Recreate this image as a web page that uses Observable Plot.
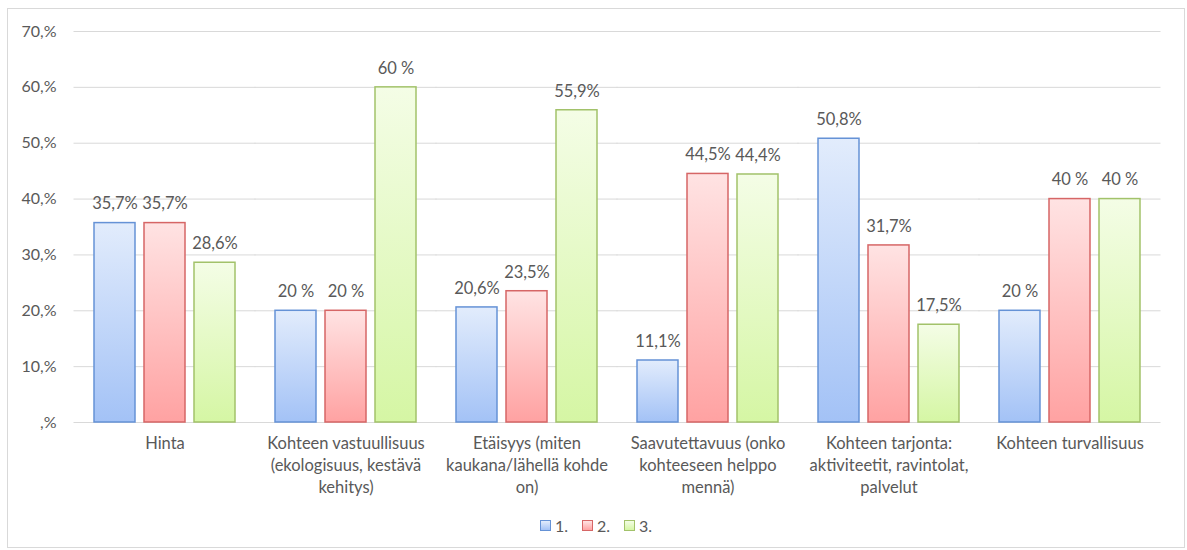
<!DOCTYPE html>
<html>
<head>
<meta charset="utf-8">
<script src="https://cdn.jsdelivr.net/npm/d3@7"></script>
<script src="https://cdn.jsdelivr.net/npm/@observablehq/plot@0.6"></script>
<style>
  html, body { margin: 0; padding: 0; background: #fff; }
  #frame {
    position: absolute; left: 7px; top: 8px; width: 1176px; height: 538px;
    border: 1px solid #d9d9d9; background: #fff; font-family: Lato, "Open Sans", sans-serif;
  }
  #chart { height: 505px; }
  #legend {
    display: flex; justify-content: center; align-items: center; gap: 0;
    font-size: 16px; color: #595959; margin-top: 2px;
  }
  .item { display: flex; align-items: center; margin: 0 7px; }
  .sw { width: 9px; height: 9px; margin-right: 4px; }
</style>
</head>
<body>
<div id="frame"><div id="chart"></div><div id="legend"></div></div>
<script>
const categories = ["Hinta", "Kohteen vastuullisuus", "Etäisyys", "Saavutettavuus", "Kohteen tarjonta", "Kohteen turvallisuus"];
const xTickLabels = [
  "Hinta",
  "Kohteen vastuullisuus\n(ekologisuus, kestävä\nkehitys)",
  "Etäisyys (miten\nkaukana/lähellä kohde\non)",
  "Saavutettavuus (onko\nkohteeseen helppo\nmennä)",
  "Kohteen tarjonta:\naktiviteetit, ravintolat,\npalvelut",
  "Kohteen turvallisuus"
];
const seriesNames = ["1.", "2.", "3."];
const values1 = [35.7, 20, 20.6, 11.1, 50.8, 20];
const values2 = [35.7, 20, 23.5, 44.5, 31.7, 40];
const values3 = [28.6, 60, 55.9, 44.4, 17.5, 40];
const labels1 = ["35,7%", "20 %", "20,6%", "11,1%", "50,8%", "20 %"];
const labels2 = ["35,7%", "20 %", "23,5%", "44,5%", "31,7%", "40 %"];
const labels3 = ["28,6%", "60 %", "55,9%", "44,4%", "17,5%", "40 %"];
const yTicks = [0, 10, 20, 30, 40, 50, 60, 70];
const yTickLabels = [",%", "10,%", "20,%", "30,%", "40,%", "50,%", "60,%", "70,%"];

const gradients = [
  {id: "g1", top: "#e2ecfc", bottom: "#a3c2f6", stroke: "#6592d6"},
  {id: "g2", top: "#ffe3e3", bottom: "#ffa2a2", stroke: "#d66666"},
  {id: "g3", top: "#f4fde6", bottom: "#d5f6a4", stroke: "#a2c26a"}
];

const seriesValues = [values1, values2, values3];
const seriesLabels = [labels1, labels2, labels3];
const data = [];
categories.forEach((c, i) => {
  seriesNames.forEach((s, j) => {
    data.push({category: c, series: s, value: seriesValues[j][i], label: seriesLabels[j][i], si: j});
  });
});

const defsMark = () => {
  const defs = d3.create("svg:defs");
  gradients.forEach(g => {
    const lg = defs.append("linearGradient").attr("id", g.id).attr("x1", 0).attr("y1", 0).attr("x2", 0).attr("y2", 1);
    lg.append("stop").attr("offset", "0%").attr("stop-color", g.top);
    lg.append("stop").attr("offset", "100%").attr("stop-color", g.bottom);
  });
  return defs.node();
};

const chart = Plot.plot({
  width: 1176,
  height: 505,
  marginTop: 22,
  marginBottom: 92,
  marginLeft: 64,
  marginRight: 21,
  style: {fontFamily: "Lato, 'Open Sans', sans-serif", fontSize: "16px", color: "#595959", background: "transparent"},
  fx: {domain: categories, paddingInner: 0.22, paddingOuter: 0.11, label: null},
  x: {domain: seriesNames, paddingInner: 0.18, paddingOuter: 0, axis: null},
  y: {domain: [0, 70], axis: null},
  color: {type: "identity"},
  marks: [
    defsMark,
    Plot.ruleY(yTicks, {y: d => d, stroke: "#d9d9d9", strokeWidth: 1, insetLeft: -20.5, insetRight: -20.5}),
    Plot.barY(data, {
      fx: "category", x: "series", y: "value",
      fill: d => `url(#${gradients[d.si].id})`,
      stroke: d => gradients[d.si].stroke,
      strokeWidth: 1.5
    }),
    Plot.text(data, {
      fx: "category", x: "series", y: "value", text: "label",
      dy: -19, fill: "#595959", fontSize: 16.5
    }),
    Plot.axisY({ticks: yTicks, tickFormat: d => yTickLabels[yTicks.indexOf(d)], tickSize: 0, tickPadding: 38, fontSize: 16, label: null}),
    Plot.axisFx({anchor: "bottom", tickSize: 0, tickPadding: 11, lineHeight: 1.32, fontSize: 16.5, label: null,
      tickFormat: d => xTickLabels[categories.indexOf(d)]})
  ]
});
document.getElementById("chart").appendChild(chart);

const legend = d3.select("#legend");
gradients.forEach((g, j) => {
  const it = legend.append("div").attr("class", "item");
  it.append("div").attr("class", "sw")
    .style("background", `linear-gradient(${g.top}, ${g.bottom})`)
    .style("border", `1px solid ${g.stroke}`);
  it.append("span").text(seriesNames[j]);
});
</script>
</body>
</html>
